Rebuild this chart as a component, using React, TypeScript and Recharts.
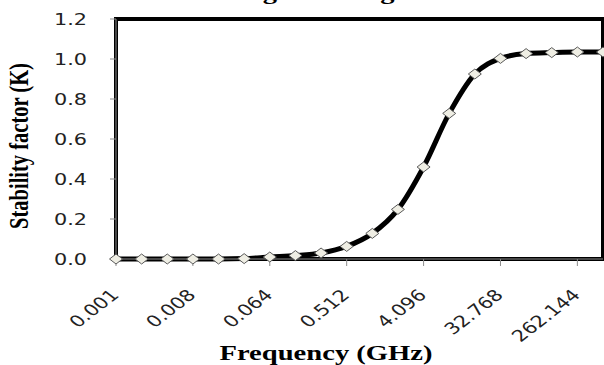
import React from 'react';
import { LineChart, Line, XAxis, YAxis, ReferenceArea, Label } from 'recharts';

// Frequency steps (GHz), doubling each point
const frequencies = [
    '0.001', '0.002', '0.004', '0.008', '0.016', '0.032', '0.064', '0.128', '0.256', '0.512',
    '1.024', '2.048', '4.096', '8.192', '16.384', '32.768', '65.536', '131.072', '262.144', '524.288'
];
const stabilityK = [
    0, 0, 0, 0, 0, 0.002, 0.01, 0.017, 0.03, 0.063,
    0.128, 0.248, 0.46, 0.728, 0.925, 1.003, 1.027, 1.032, 1.035, 1.035
];
const yTicks = [0, 0.2, 0.4, 0.6, 0.8, 1.0, 1.2];

const data = frequencies.map((f, i) => ({ f, k: stabilityK[i] }));

// the source picture is stretched sideways, so text gets the same stretch
const SX = 1.3;

const Diamond = (props: any) => {
    const { cx, cy, index } = props;
    if (cx == null || cy == null) return null;
    return (
        <path
            key={`d-${index}`}
            d={`M${cx - 6.5},${cy} L${cx},${cy - 5} L${cx + 6.5},${cy} L${cx},${cy + 5} Z`}
            fill="#EFEEE4"
            stroke="#5a5a5a"
            strokeWidth={1}
        />
    );
};

const XTick = (props: any) => {
    const { x, y, payload } = props;
    return (
        <g transform={`translate(${x + 4},${y + 28}) scale(${SX},1) rotate(-45)`}>
            <text textAnchor="end" fontFamily="DejaVu Sans" fontSize={16} fill="#222">
                {payload.value}
            </text>
        </g>
    );
};

const YTick = (props: any) => {
    const { x, y, payload } = props;
    return (
        <g transform={`translate(${x},${y}) scale(${SX},1)`}>
            <text textAnchor="end" dy="0.36em" fontFamily="DejaVu Sans" fontSize={16} fill="#222">
                {Number(payload.value).toFixed(1)}
            </text>
        </g>
    );
};

export default function App() {
    return (
        <div style={{ position: 'absolute', left: 0, top: 0, background: '#fff' }}>
            <LineChart width={604} height={365} data={data} margin={{ top: 19, right: 1, bottom: 0, left: 0 }}>
                <XAxis
                    dataKey="f"
                    interval={2}
                    height={106}
                    stroke="#8c8c8c"
                    tickSize={7}
                    tickMargin={2}
                    tick={<XTick />}
                >
                    <Label
                        content={() => (
                            <g transform={`translate(326,360) scale(${SX},1)`}>
                                <text textAnchor="middle" fontFamily="Liberation Serif" fontWeight="bold" fontSize={22} fill="#000">
                                    Frequency (GHz)
                                </text>
                            </g>
                        )}
                    />
                </XAxis>
                <YAxis
                    domain={[0, 1.2]}
                    ticks={yTicks}
                    width={116}
                    stroke="#8c8c8c"
                    tickSize={6}
                    tickMargin={23}
                    tick={<YTick />}
                >
                    <Label
                        content={() => (
                            <g transform={`translate(28,146) scale(${SX},1) rotate(-90)`}>
                                <text textAnchor="middle" fontFamily="Liberation Serif" fontWeight="bold" fontSize={20.5} fill="#000">
                                    Stability factor (K)
                                </text>
                            </g>
                        )}
                    />
                </YAxis>
                {/* title sits mostly above the frame, only descenders show */}
                <text transform={`translate(223,-1) scale(${SX},1)`} fontFamily="Liberation Serif" fontWeight="bold" fontSize={22} fill="#000">
                    Stage of Design
                </text>
                <ReferenceArea
                    x1={frequencies[0]}
                    x2={frequencies[frequencies.length - 1]}
                    y1={0}
                    y2={1.2}
                    fill="none"
                    stroke="#000"
                    strokeWidth={4}
                    fillOpacity={0}
                    strokeOpacity={1}
                />
                <Line
                    type="monotone"
                    dataKey="k"
                    stroke="#000"
                    strokeWidth={5}
                    dot={<Diamond />}
                    activeDot={false}
                    isAnimationActive={false}
                />
            </LineChart>
        </div>
    );
}
